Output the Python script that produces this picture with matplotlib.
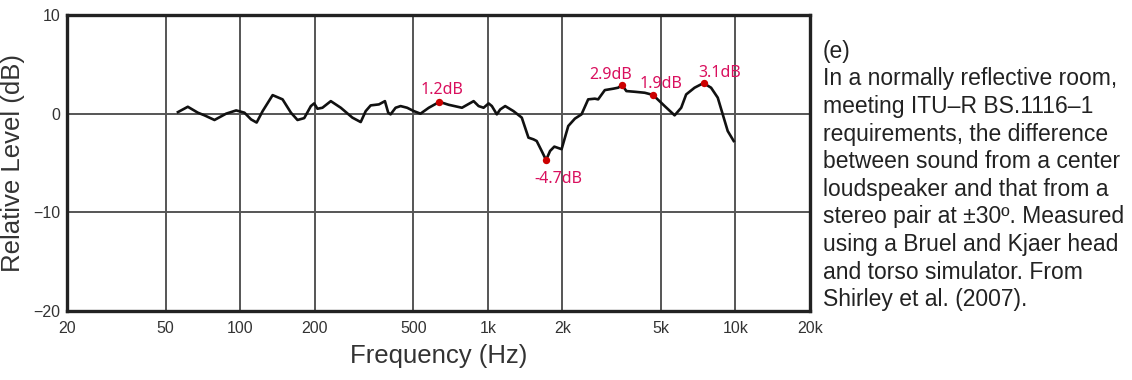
import matplotlib
matplotlib.use("Agg")
import matplotlib.pyplot as plt
from matplotlib.ticker import FixedLocator, NullLocator

# measured response (Hz, dB)
freq_hz = [56.1, 61.5, 67.5, 71.8, 78.8, 87.8, 96.4, 104.1, 110.7, 116.6,
           123.3, 135.3, 148.4, 160.4, 170.5, 181.5, 193.1, 199.1, 205.3, 215.0,
           232.4, 255.0, 284.0, 306.9, 321.5, 336.7, 363.6, 384.4, 396.3, 405.2,
           424.4, 444.6, 472.5, 502.9, 535.0, 578.0, 638.0, 695.5, 786.7, 876.9,
           918.4, 962.0, 1008, 1039, 1088, 1123, 1176, 1270, 1372, 1460,
           1529, 1576, 1651, 1720, 1785, 1857, 1987, 2114, 2249, 2391,
           2544, 2707, 2791, 2970, 3208, 3360, 3487, 3629, 3923, 4304,
           4648, 5181, 5683, 6041, 6327, 6840, 7434, 7976, 8487, 8889,
           9311, 9843]
level_db = [0.16, 0.70, 0.10, -0.17, -0.64, 0.0, 0.33, 0.10, -0.58, -0.90,
            0.26, 1.88, 1.45, 0.10, -0.64, -0.45, 0.77, 1.04, 0.50, 0.60,
            1.27, 0.60, -0.40, -0.85, 0.26, 0.84, 0.94, 1.27, 0.10, -0.07,
            0.60, 0.77, 0.60, 0.26, 0.0, 0.60, 1.2, 0.90, 0.60, 1.27,
            0.77, 0.60, 1.04, 0.77, -0.07, 0.43, 0.77, 0.26, -0.40, -2.43,
            -2.60, -2.77, -3.78, -4.7, -3.78, -3.34, -3.60, -1.25, -0.50, -0.07,
            1.45, 1.52, 1.45, 2.39, 2.53, 2.63, 2.9, 2.29, 2.22, 2.12,
            1.9, 0.77, -0.17, 0.60, 1.95, 2.63, 3.1, 2.63, 1.62, -0.07,
            -1.76, -2.77]

# highlighted points
mark_hz = [638.0, 1720, 3487, 4648, 7434]
mark_db = [1.2, -4.7, 2.9, 1.9, 3.1]
mark_txt = ["1.2dB", "-4.7dB", "2.9dB", "1.9dB", "3.1dB"]
mark_off = [(1.5, 5.8), (9, -16.5), (-8, 4.6), (6, 5.0), (11.5, 4.3)]

xticks = [20, 50, 100, 200, 500, 1000, 2000, 5000, 10000, 20000]
xtick_labels = ["20", "50", "100", "200", "500", "1k", "2k", "5k", "10k", "20k"]
yticks = [-20, -10, 0, 10]
ytick_labels = ["\u221220", "\u221210", "0", "10"]

caption = ("(e)\n"
           "In a normally reflective room,\n"
           "meeting ITU\u2013R BS.1116\u20131\n"
           "requirements, the difference\n"
           "between sound from a center\n"
           "loudspeaker and that from a\n"
           "stereo pair at \u00b130\u00ba. Measured\n"
           "using a Bruel and Kjaer head\n"
           "and torso simulator. From\n"
           "Shirley et al. (2007).")

plt.rcParams['font.family'] = ['Liberation Sans', 'DejaVu Sans']

fig = plt.figure(figsize=(11.32, 3.8), dpi=100)
ax = fig.add_axes([0.0592, 0.1816, 0.6563, 0.7789])

ax.set_xscale('log')
ax.set_xlim(20, 20000)
ax.set_ylim(-20, 10)
ax.xaxis.set_major_locator(FixedLocator(xticks))
ax.xaxis.set_minor_locator(NullLocator())
ax.set_xticklabels(xtick_labels)
ax.set_yticks(yticks)
ax.set_yticklabels(ytick_labels)
ax.tick_params(length=0, labelsize=11.5, colors='#333333', pad=5)
ax.tick_params(axis='x', pad=7)

ax.grid(True, color='#555555', linewidth=1.4)
ax.set_axisbelow(True)
for s in ax.spines.values():
    s.set_linewidth(2.4)
    s.set_color('#222222')

ax.plot(freq_hz, level_db, color='#111111', linewidth=1.9, zorder=3)
ax.scatter(mark_hz, mark_db, s=28, color='#CC0000', zorder=4, linewidths=0)
for f, v, t, off in zip(mark_hz, mark_db, mark_txt, mark_off):
    ax.annotate(t, (f, v), xytext=off, textcoords='offset points',
                ha='center', va='baseline', color='#D9105E', fontsize=11.5,
                family=['Noto Sans', 'DejaVu Sans'], zorder=5)

ax.set_ylabel('Relative Level (dB)', fontsize=18.5, color='#333333', labelpad=6)
ax.set_xlabel('Frequency (Hz)', fontsize=18.5, color='#333333', labelpad=6)

fig.text(0.727, 0.895, caption, fontsize=16.5, color='#222222',
         ha='left', va='top', linespacing=1.255)

fig.savefig('out.png', dpi=100)
